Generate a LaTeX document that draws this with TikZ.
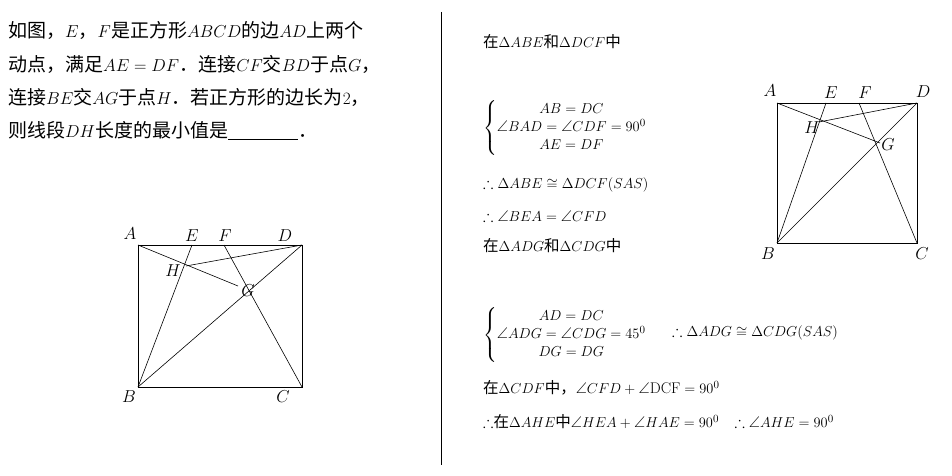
\documentclass[tikz,border=0pt]{standalone}
\usepackage{amsmath,amssymb}
\usepackage{fontspec}
\newfontfamily\cjk{Noto Sans CJK SC}
\begin{document}
\begin{tikzpicture}[x=1pt,y=-1pt,
  lt/.style={anchor=west,inner sep=0pt,font=\fontsize{19}{21}\selectfont},
  rt/.style={anchor=west,inner sep=0pt,font=\fontsize{15.5}{18}\selectfont},
  lab/.style={inner sep=1pt,font=\fontsize{16}{18}\selectfont},
  seg/.style={line width=0.6pt},
  sq/.style={line width=0.9pt}]
\useasboundingbox (0,0) rectangle (952,476);
\draw[line width=0.8pt] (441,12) -- (441,465);
% left text
\node[lt] (t1) at (8,30) {\cjk 如图，$E$，$F$是正方形$ABCD$的边$AD$上两个};
\node[lt] (t2) at (8,64) {\cjk 动点，满足$AE=DF$．连接$CF$交$BD$于点$G$，};
\node[lt] (t3) at (8,97) {\cjk 连接$BE$交$AG$于点$H$．若正方形的边长为$2$，};
\node[lt] (t4) at (8,131) {\cjk 则线段$DH$长度的最小值是\underline{\hspace{70pt}}．};
% left figure
\coordinate (A) at (138,245); \coordinate (D) at (302,245);
\coordinate (B) at (138,387); \coordinate (C) at (302,387);
\coordinate (E) at (192,245); \coordinate (F) at (224,245);
\coordinate (H) at (186,266); \coordinate (G) at (238,286);
\draw[sq] (A) -- (D) -- (C) -- (B) -- cycle;
\draw[seg] (B) -- (E); \draw[seg] (B) -- (D); \draw[seg] (C) -- (F);
\draw[seg] (A) -- (G); \draw[seg] (H) -- (D);
\node[lab] (lA) at (130,234) {$A$}; \node[lab] (lE) at (192,236) {$E$};
\node[lab] (lF) at (225,236) {$F$}; \node[lab] (lD) at (285,236) {$D$};
\node[lab] (lH) at (173,271) {$H$}; \node[lab] (lG) at (248,291) {$G$};
\node[lab] (lB) at (129,397) {$B$}; \node[lab] (lC) at (283,397) {$C$};
% right figure
\coordinate (A2) at (777,103); \coordinate (D2) at (917,103);
\coordinate (B2) at (777,243); \coordinate (C2) at (917,243);
\coordinate (E2) at (826,103); \coordinate (F2) at (859,103);
\coordinate (H2) at (819,122); \coordinate (G2) at (880,143);
\draw[sq] (A2) -- (D2) -- (C2) -- (B2) -- cycle;
\draw[seg] (B2) -- (E2); \draw[seg] (B2) -- (D2); \draw[seg] (C2) -- (F2);
\draw[seg] (A2) -- (G2); \draw[seg] (H2) -- (D2);
\node[lab] (rA) at (770,91) {$A$}; \node[lab] (rE) at (831,93) {$E$};
\node[lab] (rF) at (865,93) {$F$}; \node[lab] (rD) at (923,92) {$D$};
\node[lab] (rH) at (812,128) {$H$}; \node[lab] (rG) at (888,145) {$G$};
\node[lab] (rB) at (768,254) {$B$}; \node[lab] (rC) at (922,254) {$C$};
% right text
\node[rt] (r1) at (483,42) {\cjk 在$\Delta ABE$和$\Delta DCF$中};
\node[rt] (r2) at (483,128) {$\left\{\begin{array}{@{}c@{}}AB=DC\\ \angle BAD=\angle CDF=90^0\\ AE=DF\end{array}\right.$};
\node[rt] (r3) at (483,185) {$\therefore\Delta ABE\cong\Delta DCF(SAS)$};
\node[rt] (r4) at (483,216) {$\therefore\angle BEA=\angle CFD$};
\node[rt] (r5) at (483,246) {\cjk 在$\Delta ADG$和$\Delta CDG$中};
\node[rt] (r6) at (483,335) {$\left\{\begin{array}{@{}c@{}}AD=DC\\ \angle ADG=\angle CDG=45^0\\ DG=DG\end{array}\right.$};
\node[rt] (r6b) at (672,333) {$\therefore\Delta ADG\cong\Delta CDG(SAS)$};
\node[rt] (r7) at (483,388) {\cjk 在$\Delta CDF$中，$\angle CFD+\angle\mathrm{DCF}=90^0$};
\node[rt] (r8) at (483,422) {\cjk $\therefore$在$\Delta AHE$中$\angle HEA+\angle HAE=90^0$\quad$\therefore\angle AHE=90^0$};
\end{tikzpicture}
\end{document}
